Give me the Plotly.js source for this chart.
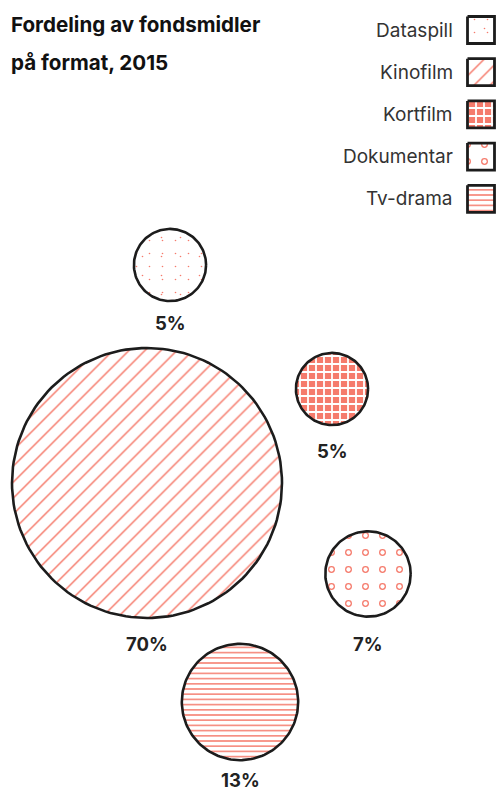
<!DOCTYPE html>
<html><head><meta charset="utf-8">
<script src="https://cdn.plot.ly/plotly-3.0.1.min.js"></script>
<style>html,body{margin:0;padding:0;background:#fff}#chart{width:499px;height:790px}</style>
</head><body><div id="chart"></div>
<script>
// ---- data ----
const categories = ['Dataspill', 'Kinofilm', 'Kortfilm', 'Dokumentar', 'Tv-drama'];
const shares = [5, 70, 5, 7, 13]; // percent of funds
const titleLines = ['Fordeling av fondsmidler', 'på format, 2015'];

// ---- layout (pixel coordinates of bubble centres) ----
const centerX = [170, 147, 332, 368, 240];
const centerY = [265, 483, 389, 574, 702];
const labelGap = [22, 26, 26, 27, 20];
const scaleK = 135 / Math.sqrt(70); // radius per sqrt(percent)

const salmon = '#f57b6c';
const ink = '#1c1c1c';
const clear = 'rgba(0,0,0,0)';

// pattern layers for each category
const patterns = {
  'Dataspill': [
    {shape: '.', fgcolor: salmon, bgcolor: clear, size: 13, solidity: 0.012},
    {shape: '.', fgcolor: salmon, bgcolor: clear, size: 19, solidity: 0.006}
  ],
  'Kinofilm': [{shape: '/', fgcolor: salmon, bgcolor: clear, size: 11.3, solidity: 0.13}],
  'Kortfilm': [{shape: '+', fgcolor: '#ffffff', bgcolor: salmon, size: 8, solidity: 0.4}],
  'Dokumentar': [
    {shape: '.', fgcolor: salmon, bgcolor: clear, size: 17, solidity: 0.13},
    {shape: '.', fgcolor: '#ffffff', bgcolor: clear, size: 17, solidity: 0.05}
  ],
  'Tv-drama': [{shape: '-', fgcolor: salmon, bgcolor: clear, size: 5.2, solidity: 0.28}]
};

function circlePath(cx, cy, r) {
  const xs = [], ys = [];
  for (let i = 0; i <= 160; i++) {
    const a = 2 * Math.PI * i / 160;
    xs.push(cx + r * Math.cos(a));
    ys.push(cy + r * Math.sin(a));
  }
  return {xs, ys};
}
function squarePath(cx, cy, h) {
  return {xs: [cx - h, cx + h, cx + h, cx - h, cx - h], ys: [cy - h, cy - h, cy + h, cy + h, cy - h]};
}

const fills = [], outlines = [], annotations = [];

categories.forEach((cat, i) => {
  const r = scaleK * Math.sqrt(shares[i]);
  const c = circlePath(centerX[i], centerY[i], r);
  patterns[cat].forEach(p => {
    fills.push({type: 'scatter', mode: 'lines', x: c.xs, y: c.ys, fill: 'toself',
      fillcolor: clear, fillpattern: p, line: {width: 0}, hoverinfo: 'skip', showlegend: false});
  });
  outlines.push({type: 'scatter', mode: 'lines', x: c.xs, y: c.ys,
    line: {color: ink, width: 2.6}, hoverinfo: 'skip', showlegend: false});
  annotations.push({x: centerX[i], y: centerY[i] + r + labelGap[i], xref: 'x', yref: 'y',
    text: '<b>' + shares[i] + '%</b>', showarrow: false, xanchor: 'center', yanchor: 'middle',
    font: {family: 'Inter, sans-serif', size: 18.5, color: '#222'}});

  // legend
  const ly = 30 + i * 42.2;
  const s = squarePath(481, ly, 13.5);
  patterns[cat].forEach(p => {
    fills.push({type: 'scatter', mode: 'lines', x: s.xs, y: s.ys, fill: 'toself',
      fillcolor: clear, fillpattern: p, line: {width: 0}, hoverinfo: 'skip', showlegend: false});
  });
  outlines.push({type: 'scatter', mode: 'lines', x: s.xs, y: s.ys,
    line: {color: ink, width: 2.8}, hoverinfo: 'skip', showlegend: false});
  annotations.push({x: 455, y: ly, xref: 'x', yref: 'y', text: cat, showarrow: false,
    xanchor: 'right', yanchor: 'middle',
    font: {family: 'Inter, sans-serif', size: 19, color: '#333'}});
});

titleLines.forEach((t, j) => {
  annotations.push({x: 9, y: 24 + j * 38, xref: 'x', yref: 'y', text: '<b>' + t + '</b>',
    showarrow: false, xanchor: 'left', yanchor: 'middle',
    font: {family: 'Inter, sans-serif', size: 20.6, color: '#111'}});
});

const layout = {
  width: 499, height: 790,
  margin: {l: 0, r: 0, t: 0, b: 0},
  paper_bgcolor: '#fff', plot_bgcolor: '#fff',
  xaxis: {range: [0, 499], visible: false, fixedrange: true},
  yaxis: {range: [790, 0], visible: false, fixedrange: true},
  annotations: annotations,
  showlegend: false
};

Plotly.newPlot('chart', fills.concat(outlines), layout, {staticPlot: true});
</script></body></html>
